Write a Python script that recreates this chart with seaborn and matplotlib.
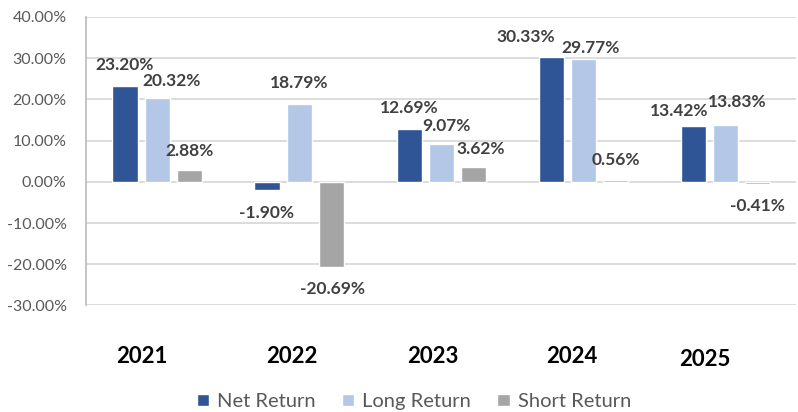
import matplotlib
matplotlib.use("Agg")
import matplotlib.pyplot as plt
import matplotlib.transforms as mtransforms
import seaborn as sns
import pandas as pd

# data
years = ["2021", "2022", "2023", "2024", "2025"]
net_return = [23.20, -1.90, 12.69, 30.33, 13.42]
long_return = [20.32, 18.79, 9.07, 29.77, 13.83]
short_return = [2.88, -20.69, 3.62, 0.56, -0.41]
series = ["Net Return", "Long Return", "Short Return"]
colors = ["#2F5597", "#B4C7E7", "#A5A5A5"]

# label nudges in pixels (dx, distance from bar end), like the hand-placed excel labels
label_dx = [[0, -1, 0, -25, -14], [14, 0, 5, 7, 12], [0, 1, 7, 0, 0]]
label_dy = [[21, 23, 21, 20, 15], [17, 21, 18, 11, 23], [19, 22, 18, 20, 22]]
year_dx = [-15, -7, -8, -12, -21]
year_dy = [0, 0, 0, 0, -3]

df = pd.DataFrame({
    "year": years * 3,
    "series": [s for s in series for _ in years],
    "value": [v / 100 for v in net_return + long_return + short_return],
})

sns.set_style("white")
plt.rcParams["font.family"] = ["Lato", "DejaVu Sans"]

fig = plt.figure(figsize=(7.98, 4.12), dpi=100)
ax = fig.add_axes([0.108, 0.2585, 0.89, 0.7005])

sns.barplot(data=df, x="year", y="value", hue="series", hue_order=series,
            palette=colors, width=0.68, gap=0.22, saturation=1,
            legend=True, ax=ax)

ax.set_ylim(-0.30, 0.40)
ax.set_xlim(-0.5, 4.5)
ax.set_yticks([i / 10 for i in range(-3, 5)])
ax.set_yticklabels([f"{i * 10:.2f}%" for i in range(-3, 5)],
                   fontsize=11.5, color="#595959")
ax.yaxis.grid(True, color="#D9D9D9", linewidth=1.3)
ax.set_axisbelow(True)
ax.set_xlabel("")
ax.set_ylabel("")
ax.tick_params(axis="x", length=0, pad=29, labelsize=16)
ax.tick_params(axis="y", length=0, pad=14)
for i, lbl in enumerate(ax.get_xticklabels()):
    lbl.set_fontweight("bold")
    lbl.set_color("black")
    lbl.set_transform(lbl.get_transform() + mtransforms.ScaledTranslation(
        year_dx[i] / 100, year_dy[i] / 100, fig.dpi_scale_trans))

for side in ["top", "right", "bottom"]:
    ax.spines[side].set_visible(False)
ax.spines["left"].set_color("#BFBFBF")
ax.spines["left"].set_linewidth(1.3)

px = 72 / fig.dpi
for k, cont in enumerate(ax.containers):
    for j, (bar, v) in enumerate(zip(cont.patches, cont.datavalues)):
        sign = 1 if v >= 0 else -1
        ax.annotate(f"{v:.2%}", xy=(bar.get_x() + bar.get_width() / 2, v),
                    xytext=(label_dx[k][j] * px, sign * label_dy[k][j] * px),
                    textcoords="offset points", ha="center", va="center",
                    fontsize=12.5, fontweight="bold", color="#404040")

handles, labels = ax.get_legend_handles_labels()
ax.get_legend().remove()
fig.legend(handles, labels, loc="center", bbox_to_anchor=(0.519, 0.025),
           ncol=3, frameon=False, fontsize=14.5, labelcolor="#595959",
           handlelength=0.6, handleheight=0.6, handletextpad=0.4,
           columnspacing=1.3)

fig.savefig("out.png", dpi=100)
